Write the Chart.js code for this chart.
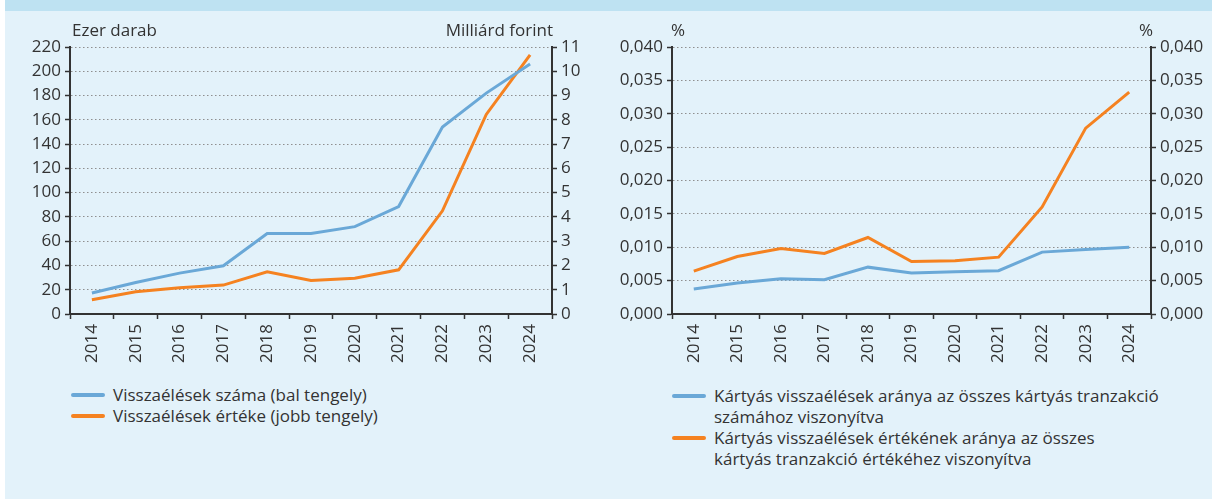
<!DOCTYPE html>
<html>
<head>
<meta charset="utf-8">
<script src="https://cdn.jsdelivr.net/npm/chart.js@4.4.1/dist/chart.umd.min.js"></script>
<style>
  html, body { margin: 0; padding: 0; background: #ffffff; }
  #panel { position: absolute; left: 5px; top: 0; width: 1207px; height: 499px; background: #e3f2fa; overflow: hidden; }
  #band { position: absolute; left: 0; top: 0; width: 1207px; height: 11px; background: #bee2f2; }
  .lbl { position: absolute; font-family: "Open Sans", sans-serif; font-size: 17px; color: #333; white-space: nowrap; line-height: 22px; }
  .leg { position: absolute; font-family: "Open Sans", sans-serif; font-size: 17px; color: #333; line-height: 21px; white-space: nowrap; }
  .sw { position: absolute; width: 34px; height: 4px; border-radius: 2px; }
</style>
</head>
<body>
<div id="panel">
  <div id="band"></div>
</div>
<canvas id="leftChart" width="606" height="380" style="position:absolute;left:0;top:0;"></canvas>
<canvas id="rightChart" width="606" height="380" style="position:absolute;left:606px;top:0;"></canvas>

<div class="lbl" style="left:72px;top:19px;">Ezer darab</div>
<div class="lbl" style="right:659px;top:19px;">Milliárd forint</div>
<div class="lbl" style="left:671px;top:19px;">%</div>
<div class="lbl" style="left:1139px;top:19px;">%</div>

<div class="sw" style="left:71px;top:393px;background:#6aa8d7;"></div>
<div class="leg" style="left:113px;top:384px;">Visszaélések száma (bal tengely)</div>
<div class="sw" style="left:71px;top:414px;background:#f58220;"></div>
<div class="leg" style="left:113px;top:405px;">Visszaélések értéke (jobb tengely)</div>

<div class="sw" style="left:672px;top:394px;background:#6aa8d7;"></div>
<div class="leg" style="left:714px;top:385px;">Kártyás visszaélések aránya az összes kártyás tranzakció<br>számához viszonyítva</div>
<div class="sw" style="left:672px;top:436px;background:#f58220;"></div>
<div class="leg" style="left:714px;top:427px;">Kártyás visszaélések értékének aránya az összes<br>kártyás tranzakció értékéhez viszonyítva</div>

<script>
// évek
const years = ['2014', '2015', '2016', '2017', '2018', '2019', '2020', '2021', '2022', '2023', '2024'];

// bal ábra: visszaélések száma (ezer darab) és értéke (milliárd forint)
const fraudCount = [17.3, 26, 33.7, 39.7, 66.3, 66.3, 72, 88.5, 154, 182, 206];
const fraudValue = [0.59, 0.92, 1.08, 1.19, 1.74, 1.38, 1.47, 1.82, 4.25, 8.22, 10.68];

// jobb ábra: arányok (%)
const shareCount = [0.00374, 0.00463, 0.00528, 0.00513, 0.00702, 0.00613, 0.00633, 0.00648, 0.00927, 0.00966, 0.01001];
const shareValue = [0.00643, 0.00862, 0.00981, 0.00907, 0.01146, 0.00787, 0.00797, 0.00852, 0.01604, 0.02785, 0.03323];

const BLUE = '#6aa8d7';
const ORANGE = '#f58220';
const AXIS = '#333333';
const GRID = '#8f8f8f';
const FONT = { family: 'Open Sans', size: 17 };

function lineSet(data, color, axis) {
    return { data: data, borderColor: color, backgroundColor: color, borderWidth: 3,
             pointRadius: 0, tension: 0, yAxisID: axis };
}

function xScale() {
    return {
        offset: true,
        grid: { display: true, offset: true, drawOnChartArea: false, drawTicks: true,
                tickLength: 5, tickColor: AXIS, tickWidth: 1.5 },
        border: { color: AXIS, width: 2 },
        ticks: { color: AXIS, font: FONT, minRotation: 90, maxRotation: 90, autoSkip: false, padding: 5 },
        afterFit: s => { s.height = 66; }
    };
}

function yScale(pos, min, max, step, width, fmt, withGrid) {
    return {
        position: pos, min: min, max: max,
        grid: { display: true, drawOnChartArea: withGrid, color: GRID, lineWidth: 1,
                drawTicks: true, tickLength: 5, tickColor: AXIS, tickWidth: 1.5, tickBorderDash: [] },
        border: { display: true, color: AXIS, width: 2, dash: [1.5, 2.5] },
        ticks: { color: AXIS, font: FONT, stepSize: step, padding: 4, callback: fmt },
        afterFit: s => { s.width = width; }
    };
}

const commonOpts = {
    responsive: false,
    animation: false,
    plugins: { legend: { display: false }, tooltip: { enabled: false } }
};

new Chart(document.getElementById('leftChart'), {
    type: 'line',
    data: {
        labels: years,
        datasets: [lineSet(fraudCount, BLUE, 'y'), lineSet(fraudValue, ORANGE, 'y1')]
    },
    options: Object.assign({}, commonOpts, {
        layout: { padding: { top: 47, left: 0, right: 0, bottom: 0 } },
        scales: {
            x: xScale(),
            y: yScale('left', 0, 220, 20, 70, v => v, true),
            y1: yScale('right', 0, 11, 1, 54, v => v, false)
        }
    })
});

const pct = v => v.toFixed(3).replace('.', ',');

new Chart(document.getElementById('rightChart'), {
    type: 'line',
    data: {
        labels: years,
        datasets: [lineSet(shareCount, BLUE, 'y'), lineSet(shareValue, ORANGE, 'y1')]
    },
    options: Object.assign({}, commonOpts, {
        layout: { padding: { top: 47, left: 0, right: 0, bottom: 0 } },
        scales: {
            x: xScale(),
            y: yScale('left', 0, 0.04, 0.005, 66, pct, true),
            y1: yScale('right', 0, 0.04, 0.005, 61, pct, false)
        }
    })
});
</script>
</body>
</html>
